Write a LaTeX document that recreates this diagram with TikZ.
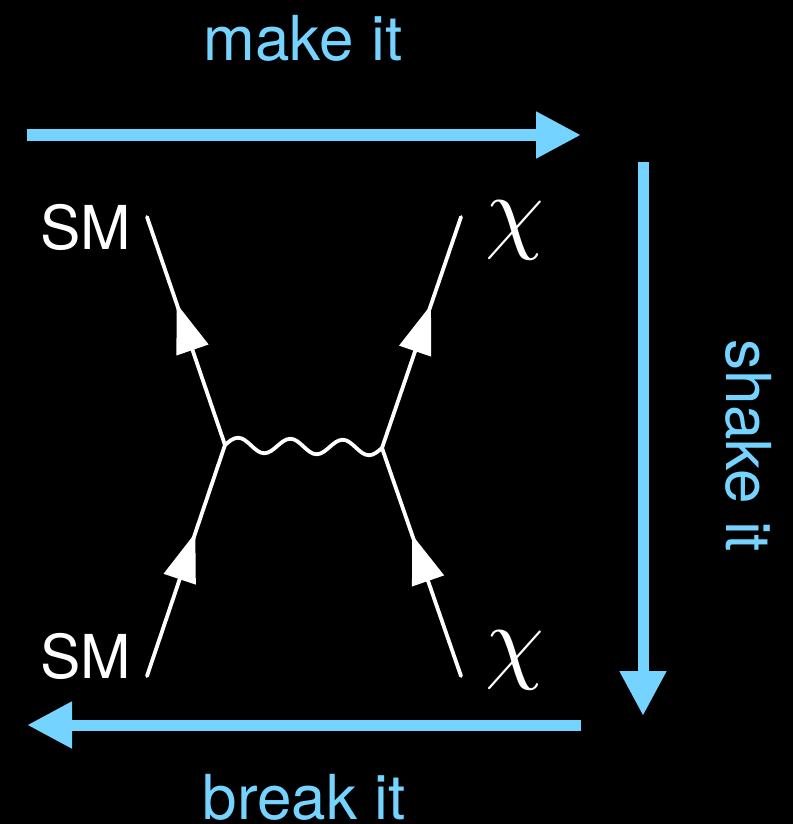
\documentclass[tikz,border=0pt]{standalone}
\usepackage{fontspec}
\setmainfont{TeX Gyre Heros}
\usetikzlibrary{arrows.meta,decorations.markings}
\definecolor{flowblue}{HTML}{75D4FF}
\begin{document}
\begin{tikzpicture}[x=1pt,y=-1pt,
  flow/.style={draw=flowblue,line width=11pt,-{Triangle[length=45pt,width=44pt]}},
  flowtext/.style={text=flowblue,font=\fontsize{62}{62}\selectfont,inner sep=0pt,anchor=base},
  smtext/.style={text=white,font=\fontsize{60.5}{60.5}\selectfont,inner sep=0pt,anchor=base east},
  chitext/.style={text=white,transform shape,scale=9.4,inner sep=0pt,anchor=base west},
  fermion/.style={draw=white,line width=3.8pt,line cap=round,postaction={decorate},
    decoration={markings,mark=at position 0.62 with {\arrow[white]{Triangle[length=49pt,width=33pt]}}}},
  photon/.style={draw=white,line width=3.8pt,line cap=round}]
  \fill[black] (0,0) rectangle (793,824);
  \useasboundingbox (0,0) rectangle (793,824);
  % vertices and outer ends
  \coordinate (vl) at (225,445);
  \coordinate (vr) at (382,448);
  \coordinate (tl) at (147,217);
  \coordinate (tr) at (461,217);
  \coordinate (bl) at (147,676);
  \coordinate (br) at (461,676);
  \draw[fermion] (vl)--(tl);
  \draw[fermion] (vr)--(tr);
  \draw[fermion] (bl)--(vl);
  \draw[fermion] (br)--(vr);
  \draw[photon] (vl) \foreach \n in {1,2,3}{
    sin ++(13.08,-7.25) cos ++(13.08,7.75) sin ++(13.08,7.75) cos ++(13.08,-7.25)} -- (vr);
  \node[smtext](smtop) at (131,249){SM};
  \node[smtext](smbot) at (131,678){SM};
  \node[chitext](chitop) at (484,241){$\chi$};
  \node[chitext](chibot) at (484,671){$\chi$};
  % outer arrows
  \coordinate (ma) at (27,135);
  \coordinate (mb) at (581,135);
  \coordinate (sa) at (643,162);
  \coordinate (sb) at (643,716);
  \coordinate (ba) at (581,725);
  \coordinate (bb) at (27,725);
  \draw[flow] (ma)--(mb);
  \draw[flow] (sa)--(sb);
  \draw[flow] (ba)--(bb);
  \node[flowtext](make) at (303,61){make it};
  \node[flowtext,rotate=-90](shake) at (726,446){shake it};
  \node[flowtext](break) at (304,819){break it};
\end{tikzpicture}
\end{document}
